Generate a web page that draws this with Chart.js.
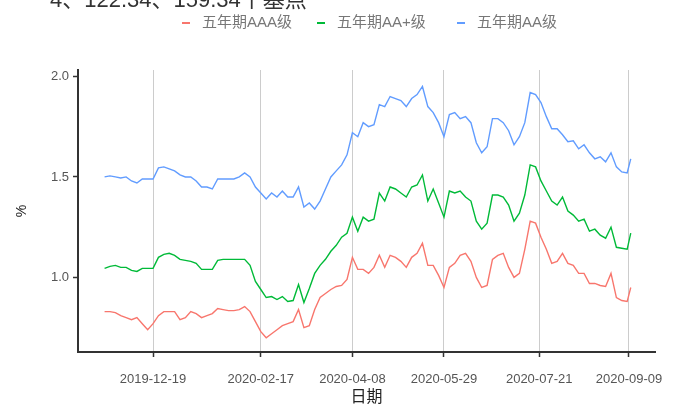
<!DOCTYPE html>
<html>
<head>
  <meta charset="utf-8">
  <title>五年期收益率</title>
  <script src="https://cdn.jsdelivr.net/npm/chart.js@4.4.0/dist/chart.umd.min.js"></script>
  <style>
    body { margin: 0; background: #fff; font-family: "Liberation Sans", "Noto Sans CJK SC", sans-serif; }
    #wrap { position: relative; width: 689px; height: 408px; overflow: hidden; }
    #note { position: absolute; left: 50px; top: -11px; font-size: 22px; line-height: 22px; color: #333; white-space: nowrap; }
    .legend-item { position: absolute; top: 13px; font-size: 15px; line-height: 17px; color: #777; white-space: nowrap; }
    .legend-item i { display: inline-block; width: 8px; height: 2px; vertical-align: middle; margin-right: 12px; }
    canvas { position: absolute; left: 0; top: 0; }
  </style>
</head>
<body>
<div id="wrap">
  <canvas id="chart" width="689" height="408"></canvas>
  <div id="note">4、122.34、159.34个基点</div>
  <div id="legend"></div>
</div>

<script>
  // every 3rd calendar day
  const dates = [
    '2019-11-22','2019-11-25','2019-11-28','2019-12-01','2019-12-04','2019-12-07','2019-12-10','2019-12-13','2019-12-16','2019-12-19',
    '2019-12-22','2019-12-25','2019-12-28','2019-12-31','2020-01-03','2020-01-06','2020-01-09','2020-01-12','2020-01-15','2020-01-18',
    '2020-01-21','2020-01-24','2020-01-27','2020-01-30','2020-02-02','2020-02-05','2020-02-08','2020-02-11','2020-02-14','2020-02-17',
    '2020-02-20','2020-02-23','2020-02-26','2020-02-29','2020-03-03','2020-03-06','2020-03-09','2020-03-12','2020-03-15','2020-03-18',
    '2020-03-21','2020-03-24','2020-03-27','2020-03-30','2020-04-02','2020-04-05','2020-04-08','2020-04-11','2020-04-14','2020-04-17',
    '2020-04-20','2020-04-23','2020-04-26','2020-04-29','2020-05-02','2020-05-05','2020-05-08','2020-05-11','2020-05-14','2020-05-17',
    '2020-05-20','2020-05-23','2020-05-26','2020-05-29','2020-06-01','2020-06-04','2020-06-07','2020-06-10','2020-06-13','2020-06-16',
    '2020-06-19','2020-06-22','2020-06-25','2020-06-28','2020-07-01','2020-07-04','2020-07-07','2020-07-10','2020-07-13','2020-07-16',
    '2020-07-19','2020-07-22','2020-07-25','2020-07-28','2020-07-31','2020-08-03','2020-08-06','2020-08-09','2020-08-12','2020-08-15',
    '2020-08-18','2020-08-21','2020-08-24','2020-08-27','2020-08-30','2020-09-02','2020-09-05','2020-09-08','2020-09-10'
  ];

  const aaa = [
    0.83,0.83,0.825,0.81,0.80,0.79,0.80,0.77,0.74,0.77,
    0.81,0.83,0.83,0.83,0.79,0.80,0.83,0.82,0.80,0.81,
    0.82,0.845,0.84,0.835,0.835,0.84,0.855,0.83,0.78,0.73,
    0.70,0.72,0.74,0.76,0.77,0.78,0.84,0.75,0.76,0.84,
    0.90,0.92,0.94,0.955,0.96,0.99,1.10,1.04,1.04,1.02,
    1.05,1.11,1.05,1.11,1.10,1.08,1.05,1.10,1.12,1.17,
    1.06,1.06,1.01,0.95,1.05,1.07,1.11,1.12,1.08,1.00,
    0.95,0.96,1.09,1.11,1.12,1.05,1.00,1.02,1.14,1.28,
    1.27,1.20,1.14,1.07,1.08,1.12,1.07,1.06,1.02,1.02,
    0.97,0.97,0.96,0.955,1.02,0.90,0.885,0.88,0.95
  ];

  const aaPlus = [
    1.045,1.055,1.06,1.05,1.05,1.035,1.03,1.045,1.045,1.045,
    1.10,1.115,1.12,1.11,1.09,1.085,1.08,1.07,1.04,1.04,
    1.04,1.085,1.09,1.09,1.09,1.09,1.09,1.06,0.98,0.94,
    0.90,0.905,0.89,0.905,0.88,0.885,0.965,0.875,0.945,1.02,
    1.06,1.09,1.13,1.16,1.20,1.22,1.30,1.23,1.30,1.28,
    1.29,1.42,1.38,1.45,1.44,1.42,1.40,1.45,1.46,1.51,
    1.38,1.44,1.37,1.30,1.43,1.42,1.43,1.40,1.38,1.28,
    1.24,1.27,1.41,1.41,1.40,1.36,1.28,1.32,1.41,1.56,
    1.55,1.48,1.43,1.38,1.36,1.40,1.33,1.31,1.28,1.29,
    1.23,1.24,1.21,1.195,1.25,1.15,1.145,1.14,1.22
  ];

  const aa = [
    1.50,1.505,1.50,1.495,1.50,1.48,1.47,1.49,1.49,1.49,
    1.545,1.55,1.54,1.53,1.51,1.50,1.50,1.48,1.45,1.45,
    1.44,1.49,1.49,1.49,1.49,1.50,1.52,1.50,1.45,1.42,
    1.39,1.42,1.40,1.43,1.40,1.40,1.45,1.35,1.37,1.34,
    1.38,1.44,1.50,1.53,1.56,1.61,1.72,1.70,1.77,1.75,
    1.76,1.86,1.85,1.90,1.89,1.88,1.85,1.89,1.91,1.95,
    1.85,1.82,1.77,1.70,1.81,1.82,1.79,1.80,1.77,1.67,
    1.62,1.65,1.79,1.79,1.77,1.73,1.66,1.70,1.77,1.92,
    1.91,1.87,1.80,1.74,1.74,1.71,1.675,1.68,1.64,1.66,
    1.62,1.59,1.60,1.575,1.62,1.55,1.525,1.52,1.59
  ];

  const seriesNames = ['五年期AAA级', '五年期AA+级', '五年期AA级'];
  const seriesColors = ['#F8766D', '#00BA38', '#619CFF'];
  const tickDates = ['2019-12-19', '2020-02-17', '2020-04-08', '2020-05-29', '2020-07-21', '2020-09-09'];
  const yTicks = [1.0, 1.5, 2.0];

  function dayNum(s) {
    const p = s.split('-');
    return Date.UTC(+p[0], +p[1] - 1, +p[2]) / 86400000;
  }
  function dayLabel(v) {
    return new Date(Math.round(v) * 86400000).toISOString().slice(0, 10);
  }

  // html legend, positions as in the original
  const legendLeft = [182, 317, 457];
  const legend = document.getElementById('legend');
  seriesNames.forEach(function(name, i) {
    const item = document.createElement('div');
    item.className = 'legend-item';
    item.style.left = legendLeft[i] + 'px';
    item.innerHTML = '<i style="background:' + seriesColors[i] + '"></i>' + name;
    legend.appendChild(item);
  });

  Chart.defaults.font.family = '"Liberation Sans", "Noto Sans CJK SC", sans-serif';

  const values = [aaa, aaPlus, aa];
  const datasets = values.map(function(vals, i) {
    return {
      label: seriesNames[i],
      data: dates.map((d, k) => ({ x: dayNum(d), y: vals[k] })),
      borderColor: seriesColors[i],
      borderWidth: 1.4,
      pointRadius: 0,
      tension: 0,
      fill: false
    };
  });

  const ref = dayNum('2019-12-19');

  new Chart(document.getElementById('chart'), {
    type: 'line',
    data: { datasets: datasets },
    options: {
      responsive: false,
      animation: false,
      layout: { padding: { top: 70, right: 34, left: 0, bottom: 0 } },
      plugins: { legend: { display: false }, tooltip: { enabled: false } },
      scales: {
        x: {
          type: 'linear',
          min: ref - 41.8,
          max: ref + 279.5,
          afterFit: function(s) { s.height = 56; },
          afterBuildTicks: function(s) { s.ticks = tickDates.map(d => ({ value: dayNum(d) })); },
          ticks: { callback: v => dayLabel(v), color: '#555', font: { size: 13 }, padding: 15, maxRotation: 0, autoSkip: false },
          grid: { color: '#cccccc', lineWidth: 1, tickColor: '#333', tickLength: 5, tickWidth: 1.5 },
          border: { color: '#333', width: 2 },
          title: { display: true, text: '日期', color: '#222', font: { size: 16 }, padding: { top: 0, bottom: 1 } }
        },
        y: {
          min: 0.629,
          max: 2.032,
          afterFit: function(s) { s.width = 78; },
          afterBuildTicks: function(s) { s.ticks = yTicks.map(v => ({ value: v })); },
          ticks: { callback: v => v.toFixed(1), color: '#555', font: { size: 13 }, padding: 4 },
          grid: { drawOnChartArea: false, tickColor: '#333', tickLength: 5, tickWidth: 1.5 },
          border: { color: '#333', width: 2 },
          title: { display: true, text: '%', color: '#222', font: { size: 14 }, padding: { top: 14 } }
        }
      }
    }
  });
</script>
</body>
</html>
